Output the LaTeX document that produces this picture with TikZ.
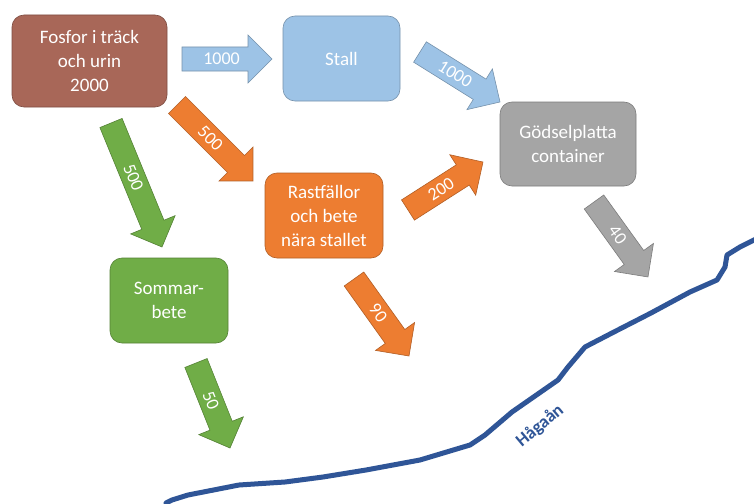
\documentclass[tikz,border=0pt]{standalone}
\usepackage{fontspec}
\setmainfont{Carlito}
\usetikzlibrary{calc}
\definecolor{cbrown}{RGB}{168,103,88}
\definecolor{cblue}{RGB}{157,195,230}
\definecolor{cgray}{RGB}{165,165,165}
\definecolor{corange}{RGB}{237,125,49}
\definecolor{cgreen}{RGB}{112,173,71}
\definecolor{criver}{RGB}{47,85,151}
\tikzset{
  box/.style={rounded corners=12pt, draw=#1!75!black, fill=#1, line width=0.6pt,
    text=white, align=center, inner sep=0pt,
    font=\fontsize{19}{24}\selectfont},
  barrow/.style={fill=#1, draw=#1!75!black, line width=0.6pt, line join=miter},
  alabel/.style={text=white, inner sep=0pt, font=\fontsize{18}{18}\selectfont},
  river/.style={draw=criver, line width=5pt, line join=round, line cap=round},
}
\newcommand\blockarrow[4]{%
  \path[barrow=#3] let \p1=($(#2)-(#1)$), \n1={atan2(\y1,\x1)}, \n2={veclen(\x1,\y1)} in
    [shift={(#1)}, rotate=\n1]
    (0pt,-12pt) -- (\n2-24pt,-12pt) -- (\n2-24pt,-24pt) -- (\n2+0pt,0pt)
    -- (\n2-24pt,24pt) -- (\n2-24pt,12pt) -- (0pt,12pt) -- cycle
    (0.44*\n2+0pt,0pt) node[rotate=\n1, alabel] {#4};
}
\begin{document}
\begin{tikzpicture}[x=1pt, y=-1pt]
\useasboundingbox (0,0) rectangle (754,503);
\fill[white] (0,0) rectangle (754,503);

% boxes
\node[box=cbrown, minimum width=155, minimum height=92] (fosfor) at (89.5,61) {Fosfor i träck\\och urin\\2000};
\node[box=cblue, minimum width=117, minimum height=85] (stall) at (341.5,58.5) {Stall};
\node[box=cgray, minimum width=136, minimum height=84] (godsel) at (568,144) {Gödselplatta\\container};
\node[box=corange, minimum width=118, minimum height=85] (rast) at (324,215.5) {Rastfällor\\och bete\\nära stallet};
\node[box=cgreen, minimum width=118, minimum height=85] (sommar) at (169,300.5) {Sommar-\\bete};

% arrow end points
\coordinate (a1t) at (182,59);  \coordinate (a1h) at (272,59);
\coordinate (a2t) at (420,52);  \coordinate (a2h) at (500,102);
\coordinate (a3t) at (177,105); \coordinate (a3h) at (253,181);
\coordinate (a4t) at (111,123); \coordinate (a4h) at (162,247);
\coordinate (a5t) at (408,210); \coordinate (a5h) at (483,162);
\coordinate (a6t) at (594,202); \coordinate (a6h) at (648,277);
\coordinate (a7t) at (354,279); \coordinate (a7h) at (409,356);
\coordinate (a8t) at (196,363); \coordinate (a8h) at (230,448);

\blockarrow{a1t}{a1h}{cblue}{1000}
\blockarrow{a2t}{a2h}{cblue}{1000}
\blockarrow{a3t}{a3h}{corange}{500}
\blockarrow{a4t}{a4h}{cgreen}{500}
\blockarrow{a5t}{a5h}{corange}{200}
\blockarrow{a6t}{a6h}{cgray}{40}
\blockarrow{a7t}{a7h}{corange}{90}
\blockarrow{a8t}{a8h}{cgreen}{50}

% river
\draw[river] (166,503) -- (172,500) -- (188,495) -- (239,485) -- (285,482) -- (323,477)
  -- (366,470) -- (420,460) -- (470,445) -- (485,435) -- (512,412) -- (558,380)
  -- (568,367) -- (585,347) -- (612,333) -- (651,313) -- (690,292) -- (717,280)
  -- (725,267) -- (727,255) -- (740,247) -- (756,239);
\node[text=criver, font=\bfseries\fontsize{18}{18}\selectfont, rotate=40, inner sep=0pt] (haga) at (540,426) {Hågaån};
\end{tikzpicture}
\end{document}
